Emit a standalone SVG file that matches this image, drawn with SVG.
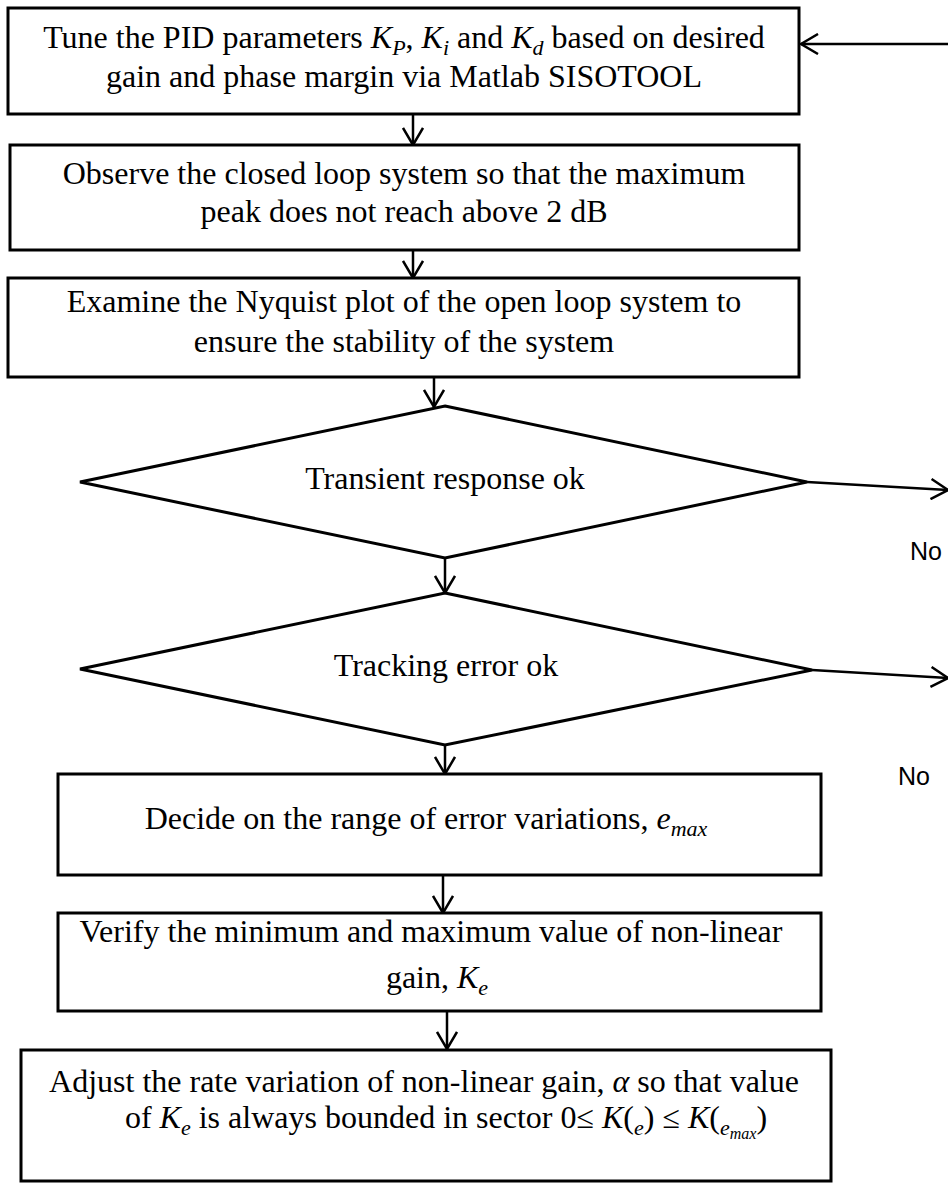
<svg xmlns="http://www.w3.org/2000/svg" width="948" height="1183" viewBox="0 0 948 1183">
<style>
.box{fill:#fff;stroke:#000;stroke-width:3}
.t{font-family:"Liberation Serif","Times New Roman",serif;font-size:32px;fill:#000;text-anchor:middle}
.m{font-style:italic}
.s{font-size:22px;font-style:italic}
.ss{font-size:16px;font-style:italic}
.no{font-family:"Liberation Sans",Arial,sans-serif;font-size:25px;fill:#000}
.c{fill:none;stroke:#000;stroke-width:2.5}
</style>
<defs>
<marker id="arr" markerUnits="userSpaceOnUse" viewBox="0 0 20 22" markerWidth="20" markerHeight="22" refX="18" refY="11" orient="auto">
<path d="M1,1 L18,11 L1,21" fill="none" stroke="#000" stroke-width="2.5"/>
</marker>
</defs>
<rect width="948" height="1183" fill="#fff"/>
<g id="connectors">
<line class="c" x1="948" y1="44" x2="801" y2="44" marker-end="url(#arr)"/>
<line class="c" x1="413" y1="114" x2="413" y2="145" marker-end="url(#arr)"/>
<line class="c" x1="413" y1="250" x2="413" y2="278" marker-end="url(#arr)"/>
<line class="c" x1="434" y1="377" x2="434" y2="407" marker-end="url(#arr)"/>
<line class="c" x1="445" y1="558" x2="445" y2="593" marker-end="url(#arr)"/>
<line class="c" x1="445" y1="745" x2="445" y2="774" marker-end="url(#arr)"/>
<line class="c" x1="443" y1="875" x2="443" y2="913" marker-end="url(#arr)"/>
<line class="c" x1="447" y1="1011" x2="447" y2="1049" marker-end="url(#arr)"/>
<line class="c" x1="807" y1="482" x2="948" y2="490" marker-end="url(#arr)"/>
<line class="c" x1="812" y1="670" x2="948" y2="678" marker-end="url(#arr)"/>
<text class="no" x="910" y="560">No</text>
<text class="no" x="898" y="785">No</text>
</g>
<g id="n1">
<rect class="box" x="8" y="8" width="791" height="106"/>
<text class="t" x="404" y="48">Tune the PID parameters <tspan class="m">K</tspan><tspan class="s" dy="7">P</tspan><tspan dy="-7">, </tspan><tspan class="m">K</tspan><tspan class="s" dy="7">i</tspan><tspan dy="-7"> and </tspan><tspan class="m">K</tspan><tspan class="s" dy="7">d</tspan><tspan dy="-7"> based on desired</tspan></text>
<text class="t" x="404" y="87">gain and phase margin via Matlab SISOTOOL</text>
</g>
<g id="n2">
<rect class="box" x="10" y="145" width="789" height="105"/>
<text class="t" x="404" y="184">Observe the closed loop system so that the maximum</text>
<text class="t" x="404" y="222">peak does not reach above 2 dB</text>
</g>
<g id="n3">
<rect class="box" x="8" y="278" width="791" height="99"/>
<text class="t" x="404" y="312">Examine the Nyquist plot of the open loop system to</text>
<text class="t" x="404" y="352">ensure the stability of the system</text>
</g>
<g id="n4">
<polygon class="box" points="445,406 807,482 445,558 80,482"/>
<text class="t" x="445" y="489">Transient response ok</text>
</g>
<g id="n5">
<polygon class="box" points="445,593 812,670 445,745 80,669"/>
<text class="t" x="446" y="676">Tracking error ok</text>
</g>
<g id="n6">
<rect class="box" x="58" y="774" width="763" height="101"/>
<text class="t" x="426" y="829">Decide on the range of error variations, <tspan class="m">e</tspan><tspan class="s" dy="7">max</tspan></text>
</g>
<g id="n7">
<rect class="box" x="58" y="913" width="763" height="98"/>
<text class="t" x="431" y="942">Verify the minimum and maximum value of non-linear</text>
<text class="t" x="437" y="988">gain, <tspan class="m">K</tspan><tspan class="s" dy="7">e</tspan></text>
</g>
<g id="n8">
<rect class="box" x="21" y="1050" width="810" height="131"/>
<text class="t" x="424" y="1092">Adjust the rate variation of non-linear gain, <tspan class="m">α</tspan> so that value</text>
<text class="t" x="446" y="1128">of <tspan class="m">K</tspan><tspan class="s" dy="7">e</tspan><tspan dy="-7"> is always bounded in sector 0≤ </tspan><tspan class="m">K</tspan>(<tspan class="s" dy="7">e</tspan><tspan dy="-7">) ≤ </tspan><tspan class="m">K</tspan>(<tspan class="s" dy="7">e</tspan><tspan class="ss" dy="4">max</tspan><tspan dy="-11">)</tspan></text>
</g>
</svg>
